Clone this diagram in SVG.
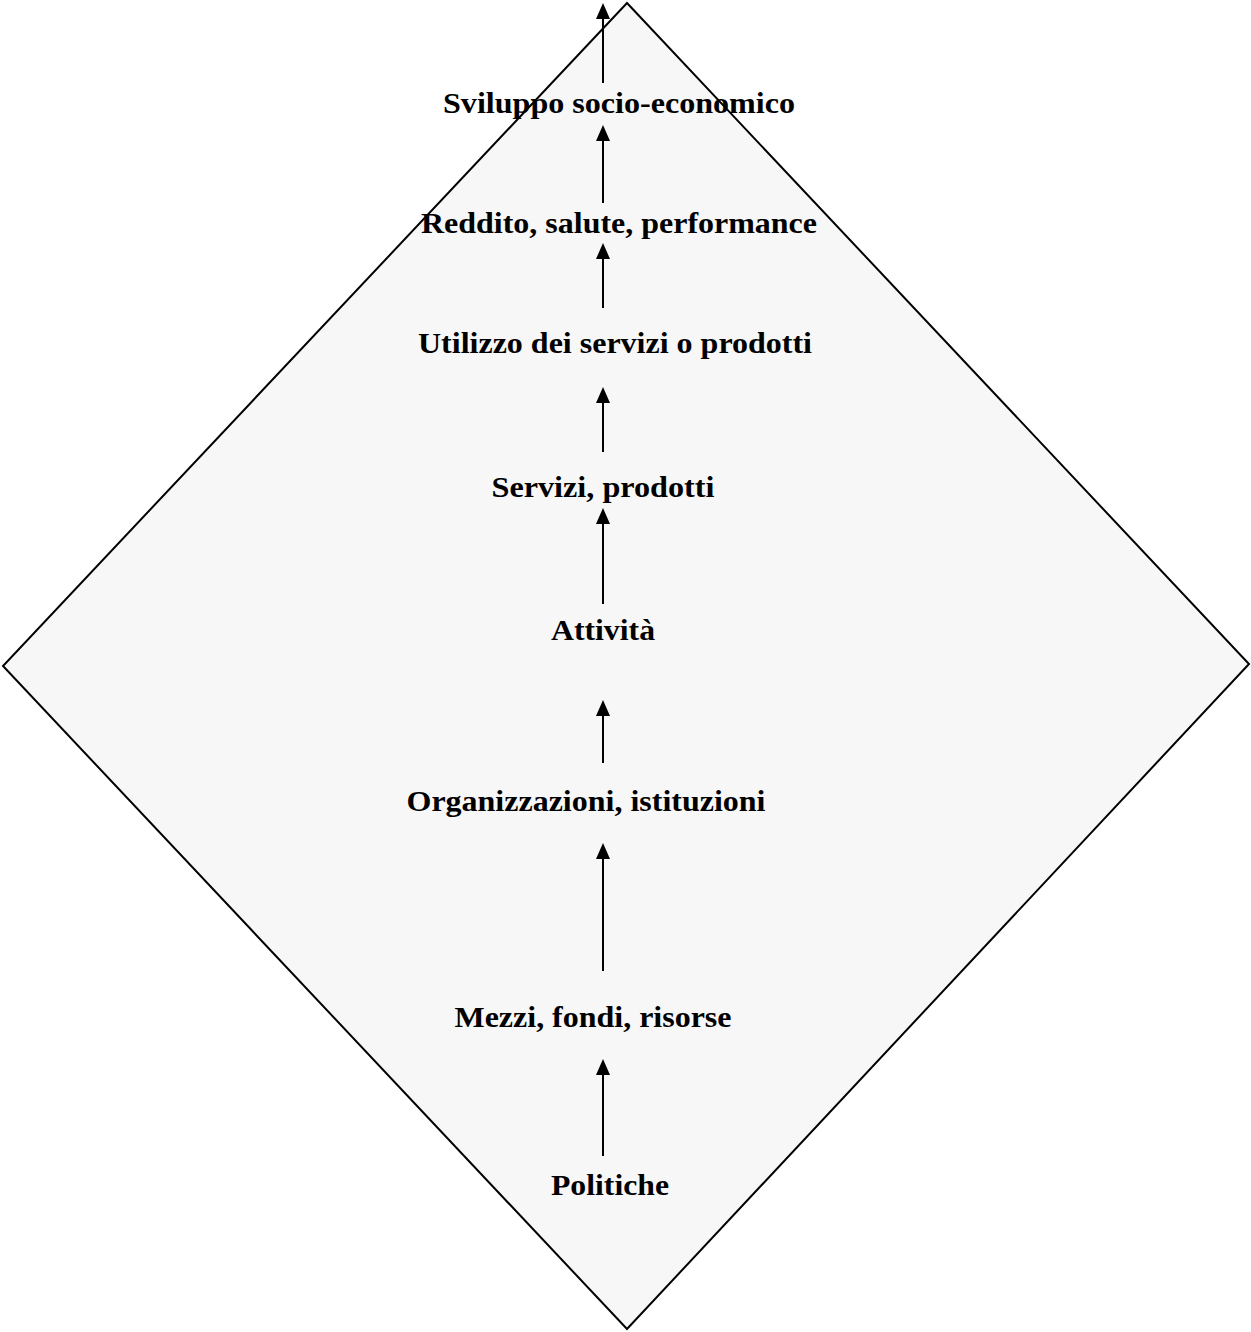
<svg xmlns="http://www.w3.org/2000/svg" width="1251" height="1332" viewBox="0 0 1251 1332">
<defs>
<style>
.lbl{font-family:"Liberation Serif","Times New Roman",Times,serif;font-weight:bold;font-size:30px;fill:#000;text-anchor:middle}
.shaft{stroke:#000;stroke-width:2;fill:none}
.head{fill:#000}
</style>
</defs>
<rect width="1251" height="1332" fill="#fff"/>
<g id="diamond">
<polygon points="627,3 1249,664 627,1329 3,666" fill="#f7f7f7" stroke="#000" stroke-width="2"/>
</g>
<g id="connectors">
<path class="shaft" d="M603,83 V19"/><path class="head" d="M596,19 L603,3 L610,19 Z"/>
<path class="shaft" d="M603,203 V141"/><path class="head" d="M596,141 L603,125 L610,141 Z"/>
<path class="shaft" d="M603,308 V259"/><path class="head" d="M596,259 L603,243 L610,259 Z"/>
<path class="shaft" d="M603,452 V403"/><path class="head" d="M596,403 L603,387 L610,403 Z"/>
<path class="shaft" d="M603,604 V524"/><path class="head" d="M596,524 L603,508 L610,524 Z"/>
<path class="shaft" d="M603,763 V716"/><path class="head" d="M596,716 L603,700 L610,716 Z"/>
<path class="shaft" d="M603,971 V859"/><path class="head" d="M596,859 L603,843 L610,859 Z"/>
<path class="shaft" d="M603,1156 V1075"/><path class="head" d="M596,1075 L603,1059 L610,1075 Z"/>
</g>
<g id="n1"><text class="lbl" x="619" y="113" textLength="352" lengthAdjust="spacingAndGlyphs">Sviluppo socio-economico</text></g>
<g id="n2"><text class="lbl" x="619" y="233" textLength="396" lengthAdjust="spacingAndGlyphs">Reddito, salute, performance</text></g>
<g id="n3"><text class="lbl" x="615" y="353" textLength="394" lengthAdjust="spacingAndGlyphs">Utilizzo dei servizi o prodotti</text></g>
<g id="n4"><text class="lbl" x="603" y="497" textLength="223" lengthAdjust="spacingAndGlyphs">Servizi, prodotti</text></g>
<g id="n5"><text class="lbl" x="603" y="640" textLength="104" lengthAdjust="spacingAndGlyphs">Attività</text></g>
<g id="n6"><text class="lbl" x="586" y="811" textLength="359" lengthAdjust="spacingAndGlyphs">Organizzazioni, istituzioni</text></g>
<g id="n7"><text class="lbl" x="593" y="1027" textLength="277" lengthAdjust="spacingAndGlyphs">Mezzi, fondi, risorse</text></g>
<g id="n8"><text class="lbl" x="610" y="1195" textLength="118" lengthAdjust="spacingAndGlyphs">Politiche</text></g>
</svg>
